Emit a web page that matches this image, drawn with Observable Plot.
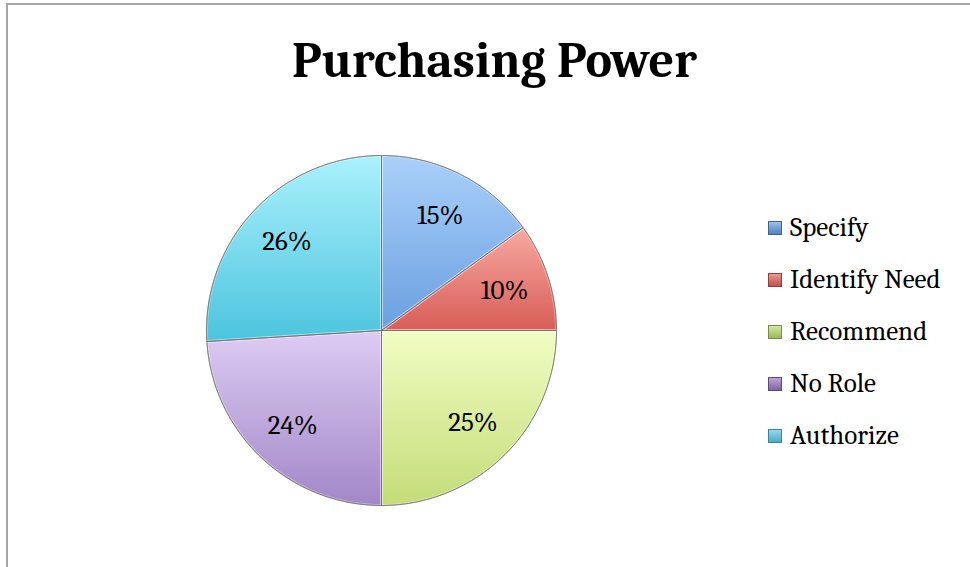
<!DOCTYPE html>
<html><head><meta charset="utf-8">
<script src="https://cdn.jsdelivr.net/npm/d3@7"></script>
<script src="https://cdn.jsdelivr.net/npm/@observablehq/plot@0.6"></script>
<style>
html,body{margin:0;padding:0;background:#fff;}
body{width:970px;height:567px;overflow:hidden;position:relative;font-family:Cambria,"Liberation Serif","Times New Roman",serif;color:#000;}
#frame{position:absolute;left:6px;top:3px;width:990px;height:620px;border:2px solid #a6a6a6;box-sizing:border-box;}
#title{position:absolute;left:0;width:989px;top:36px;text-align:center;font-weight:bold;font-size:50px;line-height:50px;white-space:nowrap;}
#chart{position:absolute;left:196px;top:145px;}
#legend{position:absolute;left:768px;top:202px;}
.row{height:52px;line-height:52px;font-size:27px;white-space:nowrap;position:relative;padding-left:22px;}
.sw{position:absolute;left:0;top:19px;width:14px;height:14px;box-sizing:border-box;}
</style>
</head><body>
<div id="frame"></div>
<div id="title">Purchasing Power</div>
<div id="chart"></div>
<div id="legend"></div>
<script>
// ---- data ----
const names = ["Specify", "Identify Need", "Recommend", "No Role", "Authorize"];
const shares = [15, 10, 25, 24, 26];
const labels = ["15%", "10%", "25%", "24%", "26%"];
// colours (light top -> darker bottom of each slice)
const topColors = ["#aad0fa", "#f8a9a1", "#f1fdc3", "#ddccf4", "#aaf1fd"];
const bottomColors = ["#6a9fe0", "#d85d57", "#c4dc78", "#a287c8", "#4cc4de"];
const swatchTop = ["#9dc0ec", "#e89894", "#d3e7a2", "#b9a6d6", "#97d8ea"];
const swatchBottom = ["#4f81bd", "#c0504d", "#9bbb59", "#8064a2", "#4bacc6"];
const swatchEdge = ["#3b6496", "#963c3a", "#728c40", "#5e4a7a", "#34869c"];

// ---- geometry from the data via d3.pie ----
const arcs = d3.pie().sort(null).value(d => d)(shares);
const pts = [];
arcs.forEach((a, i) => {
  pts.push({i, x: 0, y: 0});
  const n = Math.max(2, Math.ceil((a.endAngle - a.startAngle) / (Math.PI / 180)));
  for (let k = 0; k <= n; k++) {
    const t = a.startAngle + (a.endAngle - a.startAngle) * k / n;
    pts.push({i, x: Math.sin(t), y: Math.cos(t)});
  }
  pts.push({i, x: 0, y: 0});
});
const labelData = arcs.map((a, i) => {
  const m = (a.startAngle + a.endAngle) / 2;
  return {label: labels[i], x: 0.74 * Math.sin(m), y: 0.74 * Math.cos(m)};
});

const size = 370;
const font = 'Cambria, "Liberation Serif", "Times New Roman", serif';
const svg = Plot.plot({
  width: size, height: size, margin: 10,
  style: {fontFamily: font, background: "transparent", overflow: "visible"},
  x: {domain: [-1, 1], axis: null},
  y: {domain: [-1, 1], axis: null},
  color: {type: "identity"},
  marks: [
    Plot.line(pts, {x: "x", y: "y", z: "i", fill: d => `url(#g${d.i})`, stroke: "#5a5a5a", strokeOpacity: 0.8, strokeWidth: 1, strokeLinejoin: "round", curve: "linear"}),
    Plot.line(pts, {x: "x", y: "y", z: "i", fill: "none", stroke: "white", strokeOpacity: 0.3, strokeWidth: 3, strokeLinejoin: "round", curve: "linear"}),
    Plot.line(pts, {x: "x", y: "y", z: "i", fill: "none", stroke: "#5a5a5a", strokeOpacity: 0.6, strokeWidth: 0.8, strokeLinejoin: "round", curve: "linear"}),
    Plot.text(labelData, {x: "x", y: "y", text: "label", fontSize: 27, fontFamily: font, fill: "black"})
  ]
});
// gradients
const ns = "http://www.w3.org/2000/svg";
const defs = document.createElementNS(ns, "defs");
names.forEach((n, i) => {
  const g = document.createElementNS(ns, "linearGradient");
  g.setAttribute("id", "g" + i);
  g.setAttribute("x1", "0"); g.setAttribute("y1", "0");
  g.setAttribute("x2", "0"); g.setAttribute("y2", "1");
  [[0, topColors[i]], [1, bottomColors[i]]].forEach(([o, c]) => {
    const s = document.createElementNS(ns, "stop");
    s.setAttribute("offset", o); s.setAttribute("stop-color", c);
    g.appendChild(s);
  });
  defs.appendChild(g);
});
svg.insertBefore(defs, svg.firstChild);
document.getElementById("chart").appendChild(svg);

// legend
const lg = document.getElementById("legend");
names.forEach((n, i) => {
  const row = document.createElement("div");
  row.className = "row";
  const sw = document.createElement("span");
  sw.className = "sw";
  sw.style.background = `linear-gradient(${swatchTop[i]}, ${swatchBottom[i]})`;
  sw.style.border = `1px solid ${swatchEdge[i]}`;
  row.appendChild(sw);
  row.appendChild(document.createTextNode(n));
  lg.appendChild(row);
});
</script>
</body></html>
